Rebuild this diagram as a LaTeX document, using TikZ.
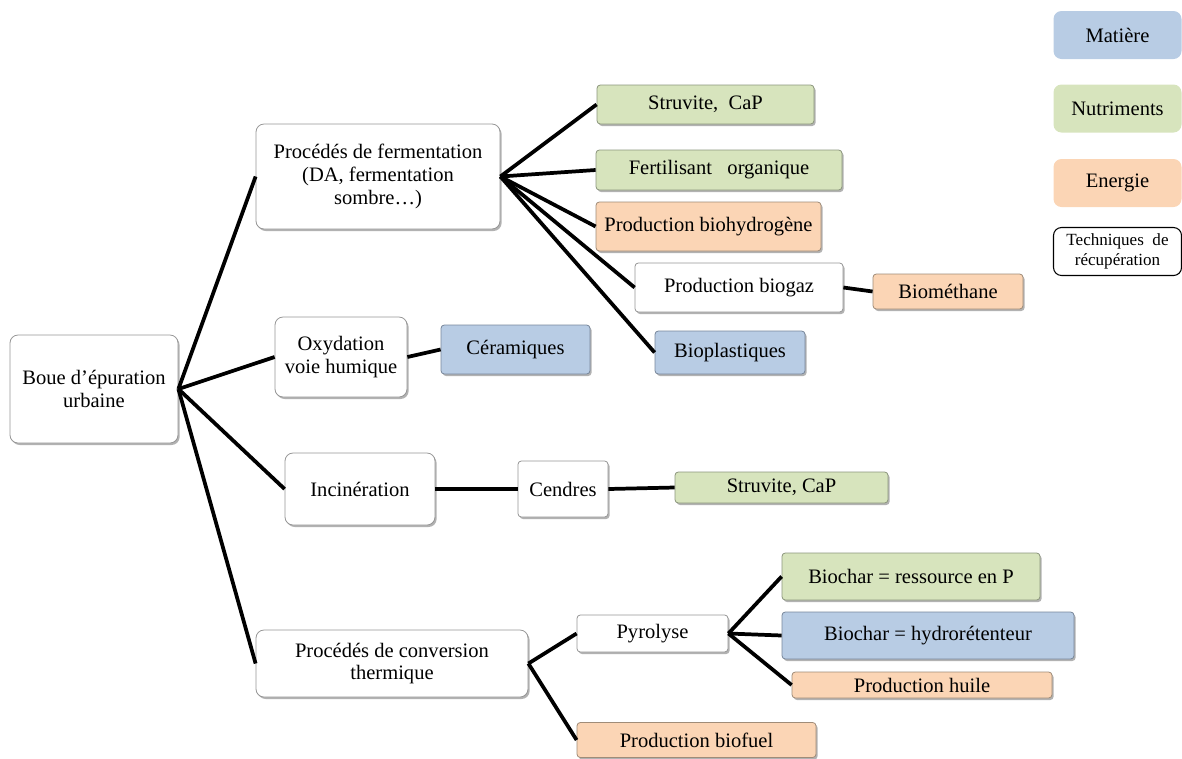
\documentclass[tikz,border=0pt]{standalone}
\usepackage{fontspec}
\setmainfont{Liberation Serif}
\usetikzlibrary{shadows}

\begin{document}
\begin{tikzpicture}[x=0.75pt,y=0.75pt,yscale=-1,xscale=1,
  every node/.style={font=\fontsize{15.4}{17}\selectfont, align=center, inner sep=0pt},
  shad/.style={drop shadow={shadow xshift=1.2pt, shadow yshift=-1.5pt, fill=black, opacity=0.3}},
  tech/.style={shad, draw={rgb, 255:red, 150; green, 150; blue, 150}, fill=white, line width=0.6pt, rounded corners=6pt},
  mat/.style={shad, draw={rgb, 255:red, 120; green, 135; blue, 155}, fill={rgb, 255:red, 184; green, 204; blue, 228}, line width=0.6pt, rounded corners=2.5pt},
  nut/.style={shad, draw={rgb, 255:red, 140; green, 150; blue, 125}, fill={rgb, 255:red, 215; green, 228; blue, 189}, line width=0.6pt, rounded corners=2.5pt},
  ener/.style={shad, draw={rgb, 255:red, 160; green, 140; blue, 120}, fill={rgb, 255:red, 251; green, 213; blue, 181}, line width=0.6pt, rounded corners=2.5pt},
  legbox/.style={rounded corners=6pt, minimum width=96pt, minimum height=36pt},
  link/.style={line width=2.8pt}
]
\useasboundingbox (0,0) rectangle (1182,758);

%Boue et techniques
\node [tech, minimum width=126pt, minimum height=81pt] (boue) at (94,389) {Boue d’épuration\\urbaine};
\node [tech, minimum width=183pt, minimum height=78.75pt] (ferm) at (378,176.5) {Procédés de fermentation\\(DA, fermentation\\sombre…)};
\node [tech, minimum width=99pt, minimum height=60pt] (oxy) at (341,357) {Oxydation\\voie humique};
\node [tech, minimum width=112.5pt, minimum height=54pt] (incin) at (360,489) {Incinération};
\node [tech, minimum width=204pt, minimum height=50.25pt] (conv) at (392,663.5) {Procédés de conversion\\thermique};

%Fermentation
\node [nut, minimum width=162.75pt, minimum height=29.25pt] (struvA) at (705.5,104.5) {Struvite,\ \ CaP};
\node [nut, minimum width=184.5pt, minimum height=30pt] (fert) at (719,170) {Fertilisant\ \ \ organique};
\node [ener, minimum width=168.75pt, minimum height=36.75pt] (hydro) at (708.5,226.5) {Production biohydrogène};
\node [tech, rounded corners=2.5pt, minimum width=156pt, minimum height=36.75pt] (biogaz) at (739,287.5) {Production biogaz};
\node [ener, minimum width=112.5pt, minimum height=26.25pt] (methane) at (948,291.5) {Biométhane};
\node [mat, minimum width=112.5pt, minimum height=32.25pt] (plast) at (730,352.5) {Bioplastiques};

%Oxydation, incineration
\node [mat, minimum width=111.75pt, minimum height=36.75pt] (ceram) at (515.5,349.5) {Céramiques};
\node [tech, rounded corners=2.5pt, minimum width=67.5pt, minimum height=42pt] (cendres) at (563,489) {Cendres};
\node [nut, minimum width=159.75pt, minimum height=23.25pt] (struvB) at (781.5,487.5) {Struvite, CaP};

%Conversion thermique
\node [tech, rounded corners=2.5pt, minimum width=113.25pt, minimum height=27.75pt] (pyro) at (652.5,633.5) {Pyrolyse};
\node [nut, minimum width=193.5pt, minimum height=35.25pt] (charP) at (911,576.5) {Biochar = ressource en P};
\node [mat, minimum width=219pt, minimum height=35.25pt] (charH) at (928,635.5) {Biochar = hydrorétenteur};
\node [ener, minimum width=195pt, minimum height=19.5pt] (huile) at (922,685) {Production huile};
\node [ener, minimum width=179.25pt, minimum height=26.25pt] (biofuel) at (696.5,740) {Production biofuel};

%Legende
\node [legbox, fill={rgb, 255:red, 184; green, 204; blue, 228}] (legmat) at (1117.5,35) {Matière};
\node [legbox, fill={rgb, 255:red, 215; green, 228; blue, 189}] (legnut) at (1117.5,108.5) {Nutriments};
\node [legbox, fill={rgb, 255:red, 251; green, 213; blue, 181}] (legener) at (1117.5,183) {Energie};
\node [legbox, draw, line width=0.8pt, font=\fontsize{12.8}{15}\selectfont] (legtech) at (1117.5,251.5) {Techniques\ \ de\\récupération};

%Straight Lines
\draw [link] (boue.east) -- (ferm.west);
\draw [link] (boue.east) -- (oxy.west);
\draw [link] (boue.east) -- (incin.west);
\draw [link] (boue.east) -- (conv.west);
\foreach \n in {struvA,fert,hydro,biogaz,plast}
  \draw [link] (ferm.east) -- (\n.west);
\draw [link] (biogaz.east) -- (methane.west);
\draw [link] (oxy.east) -- (ceram.west);
\draw [link] (incin.east) -- (cendres.west);
\draw [link] (cendres.east) -- (struvB.west);
\draw [link] (conv.east) -- (pyro.west);
\draw [link] (conv.east) -- (biofuel.west);
\foreach \n in {charP,charH,huile}
  \draw [link] (pyro.east) -- (\n.west);

\end{tikzpicture}
\end{document}
